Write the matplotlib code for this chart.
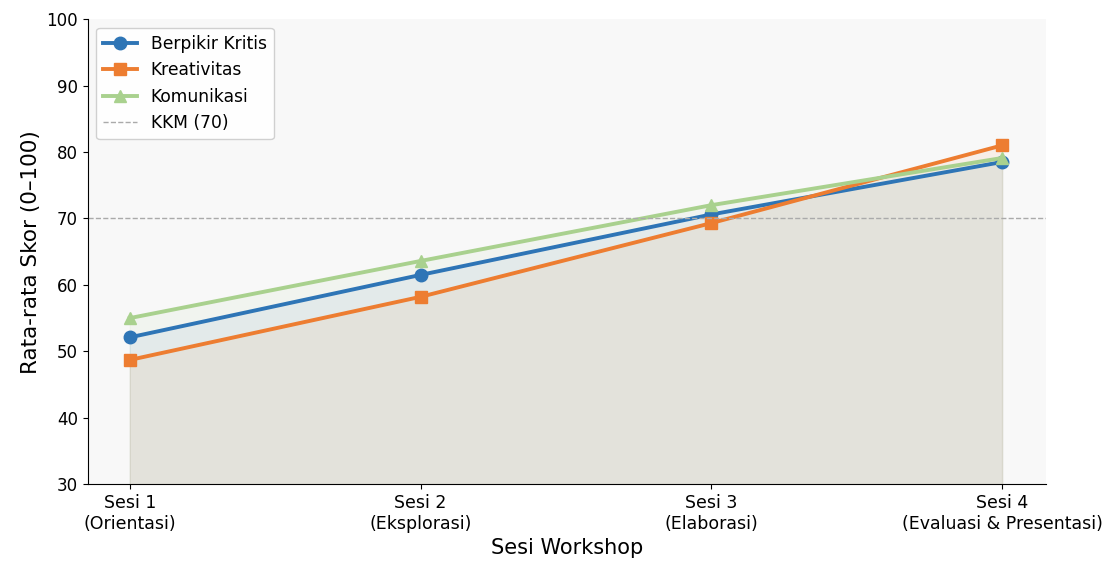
import matplotlib
matplotlib.use("Agg")
import matplotlib.pyplot as plt
import numpy as np

# DATA
sesi = ["Sesi 1\n(Orientasi)", "Sesi 2\n(Eksplorasi)", "Sesi 3\n(Elaborasi)", "Sesi 4\n(Evaluasi & Presentasi)"]
berpikir_kritis = [52.1, 61.5, 70.6, 78.5]
kreativitas = [48.7, 58.2, 69.3, 81.0]
komunikasi = [55.0, 63.6, 72.0, 79.1]
kkm = 70

x = np.arange(len(sesi))

fig, ax = plt.subplots(figsize=(11.09, 5.63), dpi=100)
ax.set_facecolor("#f8f8f8")

# SERIES: LINE + LIGHT FILL DOWN TO THE AXIS
series = [
    ("Berpikir Kritis", berpikir_kritis, "#2E75B6", "o", 9),
    ("Kreativitas", kreativitas, "#ED7D31", "s", 8),
    ("Komunikasi", komunikasi, "#A9D18E", "^", 9),
]
for name, vals, col, mk, ms in series:
    ax.fill_between(x, vals, 30, color=col, alpha=0.08)
for name, vals, col, mk, ms in series:
    ax.plot(x, vals, marker=mk, ms=ms, lw=2.8, color=col, label=name)

ax.axhline(kkm, color="#aaaaaa", ls="--", lw=1, label="KKM (70)")

ax.set_xticks(x)
ax.set_xticklabels(sesi, fontsize=12.5)
ax.tick_params(axis="y", labelsize=12)
ax.set_xlim(-0.145, 3.15)
ax.set_ylim(30, 100)
ax.set_xlabel("Sesi Workshop", fontsize=15)
ax.set_ylabel("Rata-rata Skor (0\u2013100)", fontsize=15.5)
ax.spines["top"].set_visible(False)
ax.spines["right"].set_visible(False)
ax.legend(loc="upper left", fontsize=12.3, facecolor="white", framealpha=0.9)

fig.subplots_adjust(left=0.079, right=0.943, top=0.966, bottom=0.14)
fig.savefig("out.png", dpi=100, facecolor="white")
